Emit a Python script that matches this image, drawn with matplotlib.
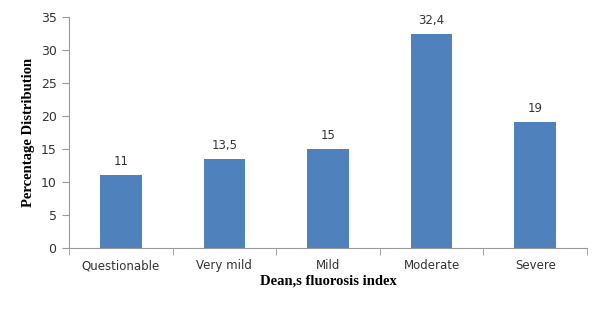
import matplotlib
matplotlib.use("Agg")
from matplotlib import pyplot as plt
import numpy as np

categories = ['Questionable', 'Very mild', 'Mild', 'Moderate', 'Severe']
values = [11, 13.5, 15, 32.4, 19]
value_labels = ['11', '13,5', '15', '32,4', '19']

fig = plt.figure(figsize=(6.04, 3.15), dpi=100)
ax = fig.add_axes([69 / 604, 1 - 248 / 315, (587 - 69) / 604, (248 - 16.5) / 315])

x = np.arange(len(categories))
ax.bar(x, values, width=0.4, color='#4F81BD', zorder=2)

for xi, v, lab in zip(x, values, value_labels):
    ax.annotate(lab, (xi, v), xytext=(0, 5), textcoords='offset points',
                ha='center', va='bottom', fontsize=8.5, color='#333333',
                family='DejaVu Sans')

ax.set_xlim(-0.5, len(categories) - 0.5)
ax.set_ylim(0, 35)
ax.set_yticks(np.arange(0, 36, 5))
ax.set_xticks(x)
ax.set_xticklabels(categories)
ax.set_xticks(np.arange(-0.5, len(categories), 1), minor=True)
ax.tick_params(axis='x', which='major', length=0, pad=8, labelsize=8.5, labelcolor='#333333')
ax.tick_params(axis='x', which='minor', length=5, color='#999999', direction='out')
ax.tick_params(axis='y', length=5, color='#999999', labelsize=9, labelcolor='#333333', pad=4)

for side in ['top', 'right']:
    ax.spines[side].set_visible(False)
for side in ['left', 'bottom']:
    ax.spines[side].set_color('#999999')

ax.set_ylabel('Percentage Distribution', family='Liberation Serif', fontweight='bold', fontsize=10.5, labelpad=4)
ax.set_xlabel('Dean,s fluorosis index', family='Liberation Serif', fontweight='bold', fontsize=10.5, labelpad=2)

fig.savefig('out.png', dpi=100)
